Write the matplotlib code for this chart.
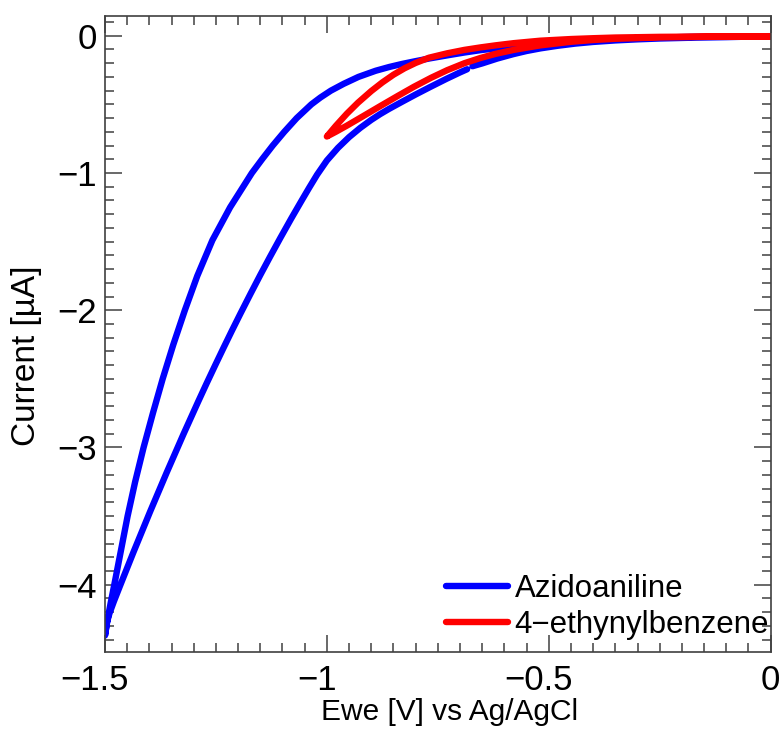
import numpy as np
import matplotlib
matplotlib.use('Agg')
import matplotlib.pyplot as plt
import matplotlib.transforms as mtransforms
from matplotlib.ticker import MultipleLocator


plt.rcParams['font.family'] = ['Liberation Sans', 'DejaVu Sans']


#Azidoaniline cyclic voltammogram
#lower branch: start near -0.68 V and sweep down to -1.5 V
azido_down_x = [-0.684, -0.700, -0.730, -0.767, -0.800, -0.830, -0.860, -0.880, -0.900, -0.925,
                -0.950, -0.975, -1.000, -1.022, -1.040, -1.056, -1.080, -1.105, -1.128, -1.150,
                -1.172, -1.195, -1.214, -1.233, -1.252, -1.271, -1.290, -1.323, -1.361, -1.398,
                -1.436, -1.466, -1.480, -1.490, -1.496, -1.500]
azido_down_y = [-0.244, -0.267, -0.313, -0.373, -0.428, -0.480, -0.533, -0.571, -0.613, -0.672,
                -0.739, -0.817, -0.909, -1.012, -1.108, -1.196, -1.330, -1.474, -1.610, -1.743,
                -1.880, -2.026, -2.149, -2.275, -2.403, -2.533, -2.666, -2.902, -3.183, -3.465,
                -3.764, -4.007, -4.122, -4.210, -4.280, -4.370]

#upper branch: back from -1.5 V to 0 V
azido_up_x = [-1.494, -1.487, -1.479, -1.464, -1.449, -1.432, -1.413, -1.392, -1.370, -1.346,
              -1.320, -1.292, -1.258, -1.218, -1.169, -1.146, -1.122, -1.096, -1.068, -1.035,
              -1.0145, -0.991, -0.962, -0.929, -0.890, -0.860, -0.830, -0.800, -0.770, -0.729,
              -0.690, -0.654, -0.620, -0.579, -0.519, -0.450, -0.400, -0.350, -0.300, -0.250,
              -0.175, -0.100, 0.000]
azido_up_y = [-4.25, -4.13, -4.00, -3.75, -3.50, -3.25, -3.00, -2.75, -2.50, -2.25,
              -2.00, -1.75, -1.49, -1.25, -1.00, -0.90, -0.80, -0.70, -0.60, -0.50,
              -0.45, -0.40, -0.35, -0.30, -0.255, -0.228, -0.205, -0.185, -0.166, -0.143,
              -0.122, -0.105, -0.092, -0.078, -0.060, -0.043, -0.033, -0.025, -0.018, -0.013,
              -0.008, -0.005, -0.003]

#lower branch again: from 0 V back to the start point
azido_back_x = [-0.100, -0.175, -0.250, -0.300, -0.350, -0.400, -0.440, -0.480, -0.519, -0.550,
                -0.580, -0.616, -0.650, -0.672]
azido_back_y = [-0.010, -0.014, -0.020, -0.026, -0.034, -0.045, -0.057, -0.073, -0.092, -0.111,
                -0.134, -0.166, -0.2015, -0.222]

#4-ethynylbenzene cyclic voltammogram, 0 V -> -1.0 V (lower branch) -> 0 V (upper branch)
ethyn_down_x = [0.000, -0.150, -0.250, -0.350, -0.400, -0.450, -0.519, -0.579, -0.620, -0.654,
                -0.690, -0.729, -0.765, -0.804, -0.840, -0.880, -0.920, -0.955, -0.980, -1.000]
ethyn_down_y = [-0.005, -0.008, -0.012, -0.022, -0.031, -0.044, -0.070, -0.103, -0.132, -0.162,
                -0.200, -0.251, -0.306, -0.372, -0.438, -0.513, -0.589, -0.655, -0.700, -0.734]
ethyn_up_x = [-0.980, -0.955, -0.930, -0.900, -0.875, -0.850, -0.825, -0.800, -0.770, -0.729,
              -0.690, -0.654, -0.620, -0.579, -0.519, -0.450, -0.400, -0.350, -0.250, -0.150,
              0.000]
ethyn_up_y = [-0.657, -0.568, -0.488, -0.403, -0.340, -0.284, -0.237, -0.198, -0.160, -0.128,
              -0.103, -0.085, -0.070, -0.054, -0.036, -0.024, -0.018, -0.013, -0.008, -0.006,
              -0.004]

series_names = ['Azidoaniline', '4\u2212ethynylbenzene']
series_colors = ['blue', 'red']


#joining the branches of each sweep
azido_x = azido_down_x + azido_up_x + azido_back_x
azido_y = azido_down_y + azido_up_y + azido_back_y
ethyn_x = ethyn_down_x + ethyn_up_x
ethyn_y = ethyn_down_y + ethyn_up_y


fig = plt.figure(figsize=(7.84, 7.31), dpi=100)
ax = fig.add_axes([0.1339, 0.1081, 0.8491, 0.8704])

ax.plot(azido_x, azido_y, color=series_colors[0], lw=4.6, label=series_names[0],
        solid_joinstyle='round', solid_capstyle='round')
ax.plot(ethyn_x, ethyn_y, color=series_colors[1], lw=4.6, label=series_names[1],
        solid_joinstyle='round', solid_capstyle='round')

ax.set_xlim(-1.5, 0)
ax.set_ylim(-4.49, 0.146)

#ticks inside on every side
ax.xaxis.set_major_locator(MultipleLocator(0.5))
ax.xaxis.set_minor_locator(MultipleLocator(0.05))
ax.yaxis.set_major_locator(MultipleLocator(1))
ax.yaxis.set_minor_locator(MultipleLocator(0.1))
ax.tick_params(which='both', direction='in', top=True, right=True, color='#404040', width=1.1)
ax.tick_params(which='major', length=12, labelsize=25)
ax.tick_params(axis='y', which='major', pad=6)
ax.tick_params(axis='x', which='major', pad=9)
ax.tick_params(which='minor', length=6.5)
ax.xaxis.set_major_formatter(plt.FuncFormatter(lambda v, p: ('%g' % v).replace('-', '\u2212')))
ax.yaxis.set_major_formatter(plt.FuncFormatter(lambda v, p: ('%g' % v).replace('-', '\u2212')))
for s in ax.spines.values():
    s.set_color('#404040')
    s.set_linewidth(1.2)

#in the original the number (not the minus sign) sits under the tick
fig.canvas.draw()
shift = mtransforms.ScaledTranslation(-7.3 / 72, 0, fig.dpi_scale_trans)
for lab in ax.get_xticklabels():
    if lab.get_text().startswith('\u2212'):
        lab.set_transform(lab.get_transform() + shift)

ax.set_xlabel('Ewe [V] vs Ag/AgCl', fontsize=21.5)
ax.xaxis.set_label_coords(0.518, -0.072)
ax.set_ylabel('Current [\u00b5A]', fontsize=24)
ax.yaxis.set_label_coords(-0.094, 0.465)

ax.legend(loc='lower left', bbox_to_anchor=(0.498, 0.004), frameon=False, fontsize=22.5,
          handlelength=2.0, handletextpad=0.2, labelspacing=0.2, borderpad=0.3,
          borderaxespad=0)

fig.savefig('out.png', dpi=100)
